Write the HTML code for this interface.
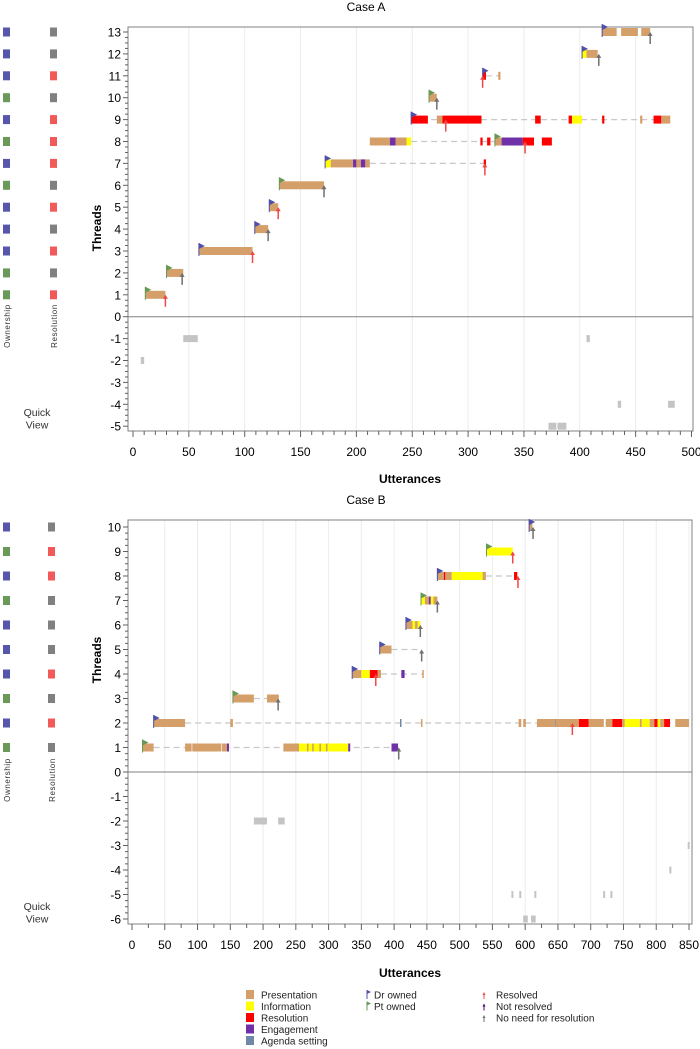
<!DOCTYPE html>
<html><head><meta charset="utf-8"><style>
body{margin:0;background:#fff;}
svg{display:block;font-family:"Liberation Sans",Arial,sans-serif;}
</style></head><body>
<svg id="chart" width="700" height="1049" viewBox="0 0 700 1049" xmlns="http://www.w3.org/2000/svg"></svg>
<script>
// ---------- Case A data ----------
const threadsA = [13,12,11,10,9,8,7,6,5,4,3,2,1];
const ownershipA = ['Dr','Dr','Dr','Pt','Dr','Pt','Dr','Pt','Dr','Dr','Dr','Pt','Pt'];
const resolutionA = ['none','none','res','none','res','res','res','none','res','none','res','none','res'];
const segA = [
 [13,420,433,'P'],[13,437,452,'P'],[13,455,463,'P'],
 [12,402,406,'I'],[12,406,410,'P'],[12,410,416,'P'],
 [11,313,316,'R'],[11,327,329,'P'],
 [10,265,272,'P'],
 [9,249,256,'R'],[9,256,264,'R'],[9,272,277,'P'],[9,277,312,'R'],[9,360,365,'R'],[9,390,393,'R'],[9,393,402,'I'],[9,420,422,'R'],[9,454,456,'P'],[9,466,473,'R'],[9,473,481,'P'],
 [8,212,230,'P'],[8,230,235,'E'],[8,235,245,'P'],[8,245,249,'I'],[8,311,313,'R'],[8,317,320,'R'],[8,324,330,'P'],[8,330,349,'E'],[8,349,359,'R'],[8,366,375,'R'],
 [7,172,177,'I'],[7,177,197,'P'],[7,197,200,'E'],[7,200,204,'P'],[7,204,208,'E'],[7,208,212,'P'],[7,314,316,'R'],
 [6,131,171,'P'],
 [5,122,130,'P'],
 [4,109,121,'P'],
 [3,59,107,'P'],
 [2,30,45,'P'],
 [1,11,29,'P']
];
const dashA = [[11,316,328],[9,249,481],[8,249,324],[7,212,315]];
const flagsA = [[13,420,'Dr'],[12,402,'Dr'],[11,313,'Dr'],[10,265,'Pt'],[9,249,'Dr'],[8,324,'Pt'],[7,172,'Dr'],[6,131,'Pt'],[5,122,'Dr'],[4,109,'Dr'],[3,59,'Dr'],[2,30,'Pt'],[1,11,'Pt']];
const arrowsA = [[13,463,'none'],[12,417,'none'],[11,313,'res'],[10,272,'none'],[9,280,'res'],[8,351,'res'],[7,315,'res'],[6,171,'none'],[5,130,'res'],[4,121,'none'],[3,107,'res'],[2,44,'none'],[1,29,'res']];
const quickA = [[-1,45,58],[-2,7,10],[-1,406,409],[-4,434,437],[-4,479,485],[-5,372,379],[-5,380,388]];
const xTicksA = [0,50,100,150,200,250,300,350,400,450,500];
const yTicksA = [13,12,11,10,9,8,7,6,5,4,3,2,1,0,-1,-2,-3,-4,-5];

// ---------- Case B data ----------
const threadsB = [10,9,8,7,6,5,4,3,2,1];
const ownershipB = ['Dr','Pt','Dr','Pt','Dr','Dr','Dr','Pt','Dr','Pt'];
const resolutionB = ['none','res','res','none','none','none','res','none','res','none'];
const segB = [
 [10,606,611,'P'],
 [9,541,581,'I'],
 [8,466,476,'P'],[8,476,478,'R'],[8,478,488,'P'],[8,488,535,'I'],[8,535,540,'P'],[8,583,588,'R'],
 [7,441,447,'I'],[7,447,453,'P'],[7,453,456,'E'],[7,456,460,'I'],[7,460,466,'P'],
 [6,418,428,'P'],[6,428,432,'I'],[6,432,436,'P'],[6,436,440,'I'],
 [5,378,396,'P'],
 [4,336,350,'P'],[4,350,363,'I'],[4,363,375,'R'],[4,375,380,'P'],[4,411,416,'E'],[4,443,445,'P'],
 [3,154,186,'P'],[3,206,224,'P'],
 [2,33,81,'P'],[2,150,154,'P'],[2,409,411,'A'],[2,441,443,'P'],[2,590,594,'P'],[2,597,601,'P'],[2,618,646,'P'],[2,646,647,'A'],[2,647,682,'P'],[2,682,697,'R'],[2,697,720,'P'],[2,723,733,'P'],[2,733,748,'R'],[2,748,752,'P'],[2,752,775,'I'],[2,775,778,'P'],[2,778,790,'I'],[2,790,797,'P'],[2,797,802,'R'],[2,802,806,'I'],[2,806,812,'P'],[2,812,821,'R'],[2,829,850,'P'],
 [1,16,33,'P'],[1,81,91,'P'],[1,92,136,'P'],[1,137,145,'P'],[1,145,148,'E'],[1,231,255,'P'],[1,255,330,'I'],[1,267,269,'P'],[1,275,277,'P'],[1,286,288,'P'],[1,296,298,'P'],[1,330,333,'E'],[1,396,406,'E']
];
const dashB = [[8,540,585],[5,396,442],[4,380,445],[3,186,206],[2,81,850],[1,33,396]];
const flagsB = [[10,606,'Dr'],[9,541,'Pt'],[8,466,'Dr'],[7,441,'Pt'],[6,418,'Dr'],[5,378,'Dr'],[4,336,'Dr'],[3,154,'Pt'],[2,33,'Dr'],[1,16,'Pt']];
const arrowsB = [[10,612,'none'],[9,581,'res'],[8,589,'res'],[7,466,'none'],[6,440,'none'],[5,442,'none'],[4,372,'res'],[3,223,'none'],[2,672,'res'],[1,407,'none']];
const quickB = [[-2,186,206],[-2,223,233],[-3,848,850],[-4,820,822],[-5,579,581],[-5,591,593],[-5,614,616],[-5,719,721],[-5,730,732],[-6,597,604],[-6,609,616]];
const xTicksB = [0,50,100,150,200,250,300,350,400,450,500,550,600,650,700,750,800,850];
const yTicksB = [10,9,8,7,6,5,4,3,2,1,0,-1,-2,-3,-4,-5,-6];

// ---------- styles ----------
const CAT = {P:'#d49f68',I:'#ffff00',R:'#ff0000',E:'#7030a8',A:'#7088a8'};
const OWN = {Dr:'#5050a8',Pt:'#689858'};
const ARR = {res:'#f04848',none:'#707070',not:'#500070'};
const SQ_OWN = {Dr:'#5656aa',Pt:'#6a9a5a'};
const SQ_RES = {res:'#f25a5a',none:'#808080'};

const svg = document.getElementById('chart');
const NS = 'http://www.w3.org/2000/svg';
function mk(tag, attrs, parent){
  const e = document.createElementNS(NS, tag);
  for (const k in attrs) e.setAttribute(k, attrs[k]);
  (parent||svg).appendChild(e);
  return e;
}
function txt(s, attrs, parent){ const e = mk('text', attrs, parent); e.textContent = s; return e; }

function drawCase(cfg){
  const {name,x,y,left,right,top,bottom,xTicks,yTicks,xMinor,yMinor,threads,own,resl,seg,dash,flags,arrows,quick,title,titleY,xlabY,tickLabY,threadLabY,ownLabY,quickY,sqResX} = cfg;
  const g = mk('g',{});
  
  
  const tt = txt(title,{x:366,y:titleY,'text-anchor':'middle','font-size':12,fill:'#000'},g);
  
  
  const grid = mk('g',{},g);
  
  
  xTicks.forEach(t=>{ if(t>0 && x(t)<right-2) mk('line',{x1:x(t),x2:x(t),y1:top,y2:bottom,stroke:'#ececec','stroke-width':1},grid); });
  const z = mk('line',{x1:left,x2:right,y1:y(0),y2:y(0),stroke:'#808080','stroke-width':1},g);
  
  
  const fr = mk('rect',{x:left,y:top,width:right-left,height:bottom-top,fill:'none',stroke:'#808080','stroke-width':1},g);
  
  
  dash.forEach(d=>{
    const l = mk('line',{x1:x(d[1]),x2:x(d[2]),y1:y(d[0]),y2:y(d[0]),stroke:'#c8c8c8','stroke-width':1.2,'stroke-dasharray':'6,4'},g);
    
    
  });
  seg.forEach(s=>{
    const r = mk('rect',{x:x(s[1]),y:y(s[0])-4,width:Math.max(1.5,x(s[2])-x(s[1])),height:8,fill:CAT[s[3]]},g);
    
    
  });
  quick.forEach(q=>{
    const r = mk('rect',{x:x(q[1]),y:y(q[0])-3.5,width:Math.max(2,x(q[2])-x(q[1])),height:7,fill:'#c4c4c4'},g);
    
    
  });
  flags.forEach(f=>{
    const fx = x(f[1]), fy = y(f[0]);
    const fg = mk('g',{},g);
    
    
    mk('line',{x1:fx,x2:fx,y1:fy-8,y2:fy+5,stroke:OWN[f[2]],'stroke-width':1},fg);
    mk('polygon',{points:`${fx},${fy-8} ${fx+6},${fy-5} ${fx},${fy-2}`,fill:OWN[f[2]]},fg);
  });
  arrows.forEach(a=>{
    const ax = x(a[1]), ay = y(a[0]);
    const ag = mk('g',{},g);
    
    
    mk('line',{x1:ax,x2:ax,y1:ay+1,y2:ay+12,stroke:ARR[a[2]],'stroke-width':1.5},ag);
    mk('polygon',{points:`${ax-2.5},${ay+4} ${ax},${ay} ${ax+2.5},${ay+4}`,fill:ARR[a[2]]},ag);
  });
  const xa = mk('g',{},g);
  
  
  const xmax = xTicks[xTicks.length-1];
  for(let v=0; v<=xmax+0.01; v+=xMinor){
    const major = xTicks.includes(Math.round(v));
    mk('line',{x1:x(v),x2:x(v),y1:bottom,y2:bottom+(major?6:4),stroke:'#606060','stroke-width':1},xa);
  }
  xTicks.forEach(t=>{
    const e = txt(String(t),{x:x(t),y:tickLabY,'text-anchor':'middle','font-size':12,fill:'#000'},xa);
    
    
  });
  const xl = txt('Utterances',{x:410,y:xlabY,'text-anchor':'middle','font-size':12,'font-weight':'bold',fill:'#000'},g);
  
  
  const ya = mk('g',{},g);
  
  
  const ymin = yTicks[yTicks.length-1], ymax = yTicks[0];
  for(let v=ymin; v<=ymax+0.001; v+=yMinor){
    const major = Math.abs(v-Math.round(v))<0.001;
    mk('line',{x1:left-(major?5:3),x2:left,y1:y(v),y2:y(v),stroke:'#606060','stroke-width':1},ya);
  }
  yTicks.forEach(t=>{
    const e = txt(String(t),{x:left-7,y:y(t)+4.5,'text-anchor':'end','font-size':12,fill:'#000'},ya);
    
    
  });
  const yl = txt('Threads',{x:0,y:0,'text-anchor':'middle','font-size':12,'font-weight':'bold',fill:'#000',transform:`translate(101,${threadLabY}) rotate(-90)`},g);
  
  
  threads.forEach((t,i)=>{
    const s1 = mk('rect',{x:3,y:y(t)-4.5,width:7,height:9,fill:SQ_OWN[own[i]]},g);
    
    
    const s2 = mk('rect',{x:sqResX,y:y(t)-4.5,width:7,height:9,fill:SQ_RES[resl[i]]},g);
    
    
  });
  const ol = txt('Ownership',{x:0,y:0,'text-anchor':'middle','font-size':8,'letter-spacing':'0.6',fill:'#333',transform:`translate(10,${ownLabY}) rotate(-90)`},g);
  
  
  const rl = txt('Resolution',{x:0,y:0,'text-anchor':'middle','font-size':8,'letter-spacing':'0.6',fill:'#333',transform:`translate(${sqResX+7},${ownLabY}) rotate(-90)`},g);
  
  
  const q1 = txt('Quick',{x:37,y:quickY,'text-anchor':'middle','font-size':10.5,fill:'#333'},g);
  
  
  const q2 = txt('View',{x:37,y:quickY+12.5,'text-anchor':'middle','font-size':10.5,fill:'#333'},g);
  
  
}

const xA = u => 133 + u*1.117;
const yA = v => 316.7 - v*21.9;
const xB = u => 132 + u*0.6553;
const yB = v => 772 - v*24.5;

drawCase({name:'case-a',x:xA,y:yA,left:128,right:693,top:27,bottom:431,xTicks:xTicksA,yTicks:yTicksA,xMinor:10,yMinor:0.25,
  threads:threadsA,own:ownershipA,resl:resolutionA,seg:segA,dash:dashA,flags:flagsA,arrows:arrowsA,quick:quickA,
  title:'Case A',titleY:11,xlabY:483,tickLabY:456,threadLabY:228,ownLabY:326,quickY:416,sqResX:50});
drawCase({name:'case-b',x:xB,y:yB,left:128,right:692,top:520,bottom:924,xTicks:xTicksB,yTicks:yTicksB,xMinor:25,yMinor:0.25,
  threads:threadsB,own:ownershipB,resl:resolutionB,seg:segB,dash:dashB,flags:flagsB,arrows:arrowsB,quick:quickB,
  title:'Case B',titleY:504,xlabY:977,tickLabY:949,threadLabY:660,ownLabY:780,quickY:910,sqResX:48});

// ---------- legend ----------
const legCats = ['Presentation','Information','Resolution','Engagement','Agenda setting'];
const legCatKeys = ['P','I','R','E','A'];
const legOwn = ['Dr owned','Pt owned'];
const legOwnKeys = ['Dr','Pt'];
const legRes = ['Resolved','Not resolved','No need for resolution'];
const legResKeys = ['res','not','none'];
const lg = mk('g',{});


legCats.forEach((c,i)=>{
  const yy = 995 + i*11.5;
  const e = mk('g',{},lg);
  
  
  mk('rect',{x:246,y:yy-5,width:8,height:9,fill:CAT[legCatKeys[i]]},e);
  txt(c,{x:261,y:yy+3.5,'font-size':10,fill:'#222'},e);
});
legOwn.forEach((c,i)=>{
  const yy = 995 + i*11.5;
  const e = mk('g',{},lg);
  
  
  mk('line',{x1:367,x2:367,y1:yy-5,y2:yy+4,stroke:OWN[legOwnKeys[i]],'stroke-width':1},e);
  mk('polygon',{points:`367,${yy-5} 371,${yy-3} 367,${yy-1}`,fill:OWN[legOwnKeys[i]]},e);
  txt(c,{x:374,y:yy+3.5,'font-size':10,fill:'#222'},e);
});
legRes.forEach((c,i)=>{
  const yy = 995 + i*11.5;
  const e = mk('g',{},lg);
  
  
  mk('line',{x1:484,x2:484,y1:yy-2,y2:yy+4,stroke:ARR[legResKeys[i]],'stroke-width':1},e);
  mk('polygon',{points:`482.5,${yy} 484,${yy-3} 485.5,${yy}`,fill:ARR[legResKeys[i]]},e);
  txt(c,{x:496,y:yy+3.5,'font-size':10,fill:'#222'},e);
});
</script>
</body></html>
